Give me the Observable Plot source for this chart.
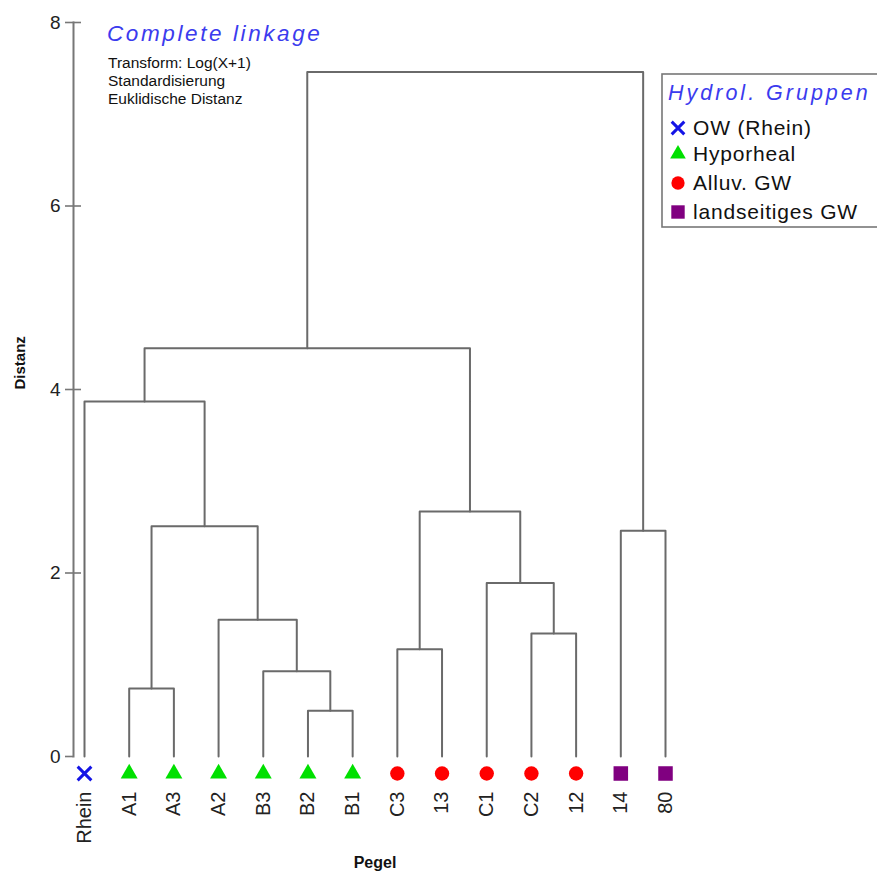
<!DOCTYPE html>
<html>
<head>
<meta charset="utf-8">
<script src="https://cdn.jsdelivr.net/npm/d3@7"></script>
<script src="https://cdn.jsdelivr.net/npm/@observablehq/plot@0.6"></script>
<style>
  html, body { margin: 0; padding: 0; background: #fff; }
  #chart { width: 877px; height: 871px; }
</style>
</head>
<body>
<div id="chart"></div>
<script>
// ---- data ----
const leaves = ["Rhein", "A1", "A3", "A2", "B3", "B2", "B1", "C3", "13", "C1", "C2", "12", "14", "80"];
const leafGroups = ["OW (Rhein)", "Hyporheal", "Hyporheal", "Hyporheal", "Hyporheal", "Hyporheal", "Hyporheal",
  "Alluv. GW", "Alluv. GW", "Alluv. GW", "Alluv. GW", "Alluv. GW", "landseitiges GW", "landseitiges GW"];
const groups = ["OW (Rhein)", "Hyporheal", "Alluv. GW", "landseitiges GW"];
// merges (scipy-style: ids 0..13 are leaves, 14+k is merge k)
const mergeLeft   = [5, 4, 1, 7, 10, 3, 9, 12, 16, 17, 0, 24, 25];
const mergeRight  = [6, 14, 2, 8, 11, 15, 18, 13, 19, 20, 22, 23, 21];
const mergeHeight = [0.50, 0.93, 0.74, 1.17, 1.34, 1.49, 1.89, 2.46, 2.51, 2.67, 3.87, 4.45, 7.46];
const yTicks = [0, 2, 4, 6, 8];
const titleText = "Complete linkage";
const noteLines = ["Transform: Log(X+1)", "Standardisierung", "Euklidische Distanz"];
const legendTitle = "Hydrol. Gruppen";
const xLabel = "Pegel";
const yLabel = "Distanz";

// ---- styles ----
const groupStyle = {
  "OW (Rhein)":      {symbol: "times",    fill: "none",    stroke: "#1414e6", strokeWidth: 3, r: 6.3},
  "Hyporheal":       {symbol: "triangle", fill: "#00e000", stroke: "none",    strokeWidth: 0, r: 6.3},
  "Alluv. GW":       {symbol: "circle",   fill: "#ff0000", stroke: "none",    strokeWidth: 0, r: 7.2},
  "landseitiges GW": {symbol: "square",   fill: "#800080", stroke: "none",    strokeWidth: 0, r: 8.2}
};
const FONT = "'Liberation Sans', Arial, Helvetica, sans-serif";
const LINE = "#6a6a6a";

// ---- build dendrogram geometry from data ----
const nx = leaves.map((_, i) => i);
const nh = leaves.map(() => 0);
const paths = [];
mergeHeight.forEach((h, k) => {
  const a = mergeLeft[k], b = mergeRight[k];
  nx.push((nx[a] + nx[b]) / 2);
  nh.push(h);
  const id = leaves.length + k;
  paths.push({id, x: nx[a], y: nh[a]});
  paths.push({id, x: nx[a], y: h});
  paths.push({id, x: nx[b], y: h});
  paths.push({id, x: nx[b], y: nh[b]});
});

const leafData = leaves.map((name, i) => ({name, i, group: leafGroups[i]}));

const marks = [
  Plot.frame({anchor: "left", stroke: "#777", strokeWidth: 2}),
  Plot.axisY({ticks: yTicks, tickSize: 8, tickPadding: 5, fontSize: 19, stroke: "#777", strokeWidth: 1.6, fill: "#222", label: null}),
  Plot.axisY({ticks: yTicks.filter(d => d > 0), tickSize: -8, tickFormat: () => "", stroke: "#777", strokeWidth: 1.6, label: null}),
  Plot.line(paths, {x: "x", y: "y", z: "id", stroke: LINE, strokeWidth: 2, curve: "linear"}),
  ...groups.map(g => {
    const s = groupStyle[g];
    return Plot.dot(leafData.filter(d => d.group === g), {
      x: "i", y: () => 0, dy: 17, symbol: s.symbol, r: s.r,
      fill: s.fill, stroke: s.stroke, strokeWidth: s.strokeWidth
    });
  }),
  Plot.text(leafData, {x: "i", y: () => 0, text: "name", rotate: -90, textAnchor: "end", dy: 35, fontSize: 20, fill: "#222"}),
  Plot.text([xLabel], {frameAnchor: "bottom", text: d => d, dy: 111, fontSize: 16, fontWeight: "bold", fill: "#111"}),
  Plot.text([yLabel], {frameAnchor: "left", text: d => d, rotate: -90, dx: -53, fontSize: 15, fontWeight: "bold", fill: "#111"})
];

const chart = Plot.plot({
  width: 877,
  height: 871,
  marginLeft: 73,
  marginRight: 201,
  marginTop: 22,
  marginBottom: 115,
  style: {fontFamily: FONT, background: "white", overflow: "visible"},
  x: {domain: [0, leaves.length - 1], range: [84, 665], axis: null},
  y: {domain: [0, 8], axis: null},
  marks
});
document.getElementById("chart").appendChild(chart);

// ---- annotations (title, notes, legend) ----
const svg = d3.select(chart);
const ann = svg.append("g").attr("font-family", FONT).attr("text-anchor", "start");
ann.append("text").attr("x", 107).attr("y", 41)
  .attr("font-size", 22.5).attr("font-style", "italic").attr("letter-spacing", "2.6px")
  .attr("fill", "#3b3bee").text(titleText);
noteLines.forEach((t, i) => {
  ann.append("text").attr("x", 108).attr("y", 68 + i * 18)
    .attr("font-size", 15.5).attr("fill", "#111").text(t);
});
const lg = ann.append("g");
lg.append("rect").attr("x", 662).attr("y", 74).attr("width", 240).attr("height", 153)
  .attr("fill", "white").attr("stroke", "#777").attr("stroke-width", 1.6);
lg.append("text").attr("x", 668).attr("y", 100)
  .attr("font-size", 21.5).attr("font-style", "italic").attr("letter-spacing", "3px")
  .attr("fill", "#3b3bee").text(legendTitle);
const legendBase = [135, 161, 190, 219];
const d3sym = {times: d3.symbolTimes, triangle: d3.symbolTriangle, circle: d3.symbolCircle, square: d3.symbolSquare};
groups.forEach((g, i) => {
  const s = groupStyle[g];
  const size = Math.PI * s.r * s.r * 0.85;
  lg.append("path")
    .attr("transform", `translate(678,${legendBase[i] - 7})`)
    .attr("d", d3.symbol(d3sym[s.symbol], size)())
    .attr("fill", s.fill).attr("stroke", s.stroke).attr("stroke-width", s.strokeWidth);
  lg.append("text").attr("x", 693).attr("y", legendBase[i])
    .attr("font-size", 21).attr("letter-spacing", "0.8px").attr("fill", "#111").text(g);
});
</script>
</body>
</html>
